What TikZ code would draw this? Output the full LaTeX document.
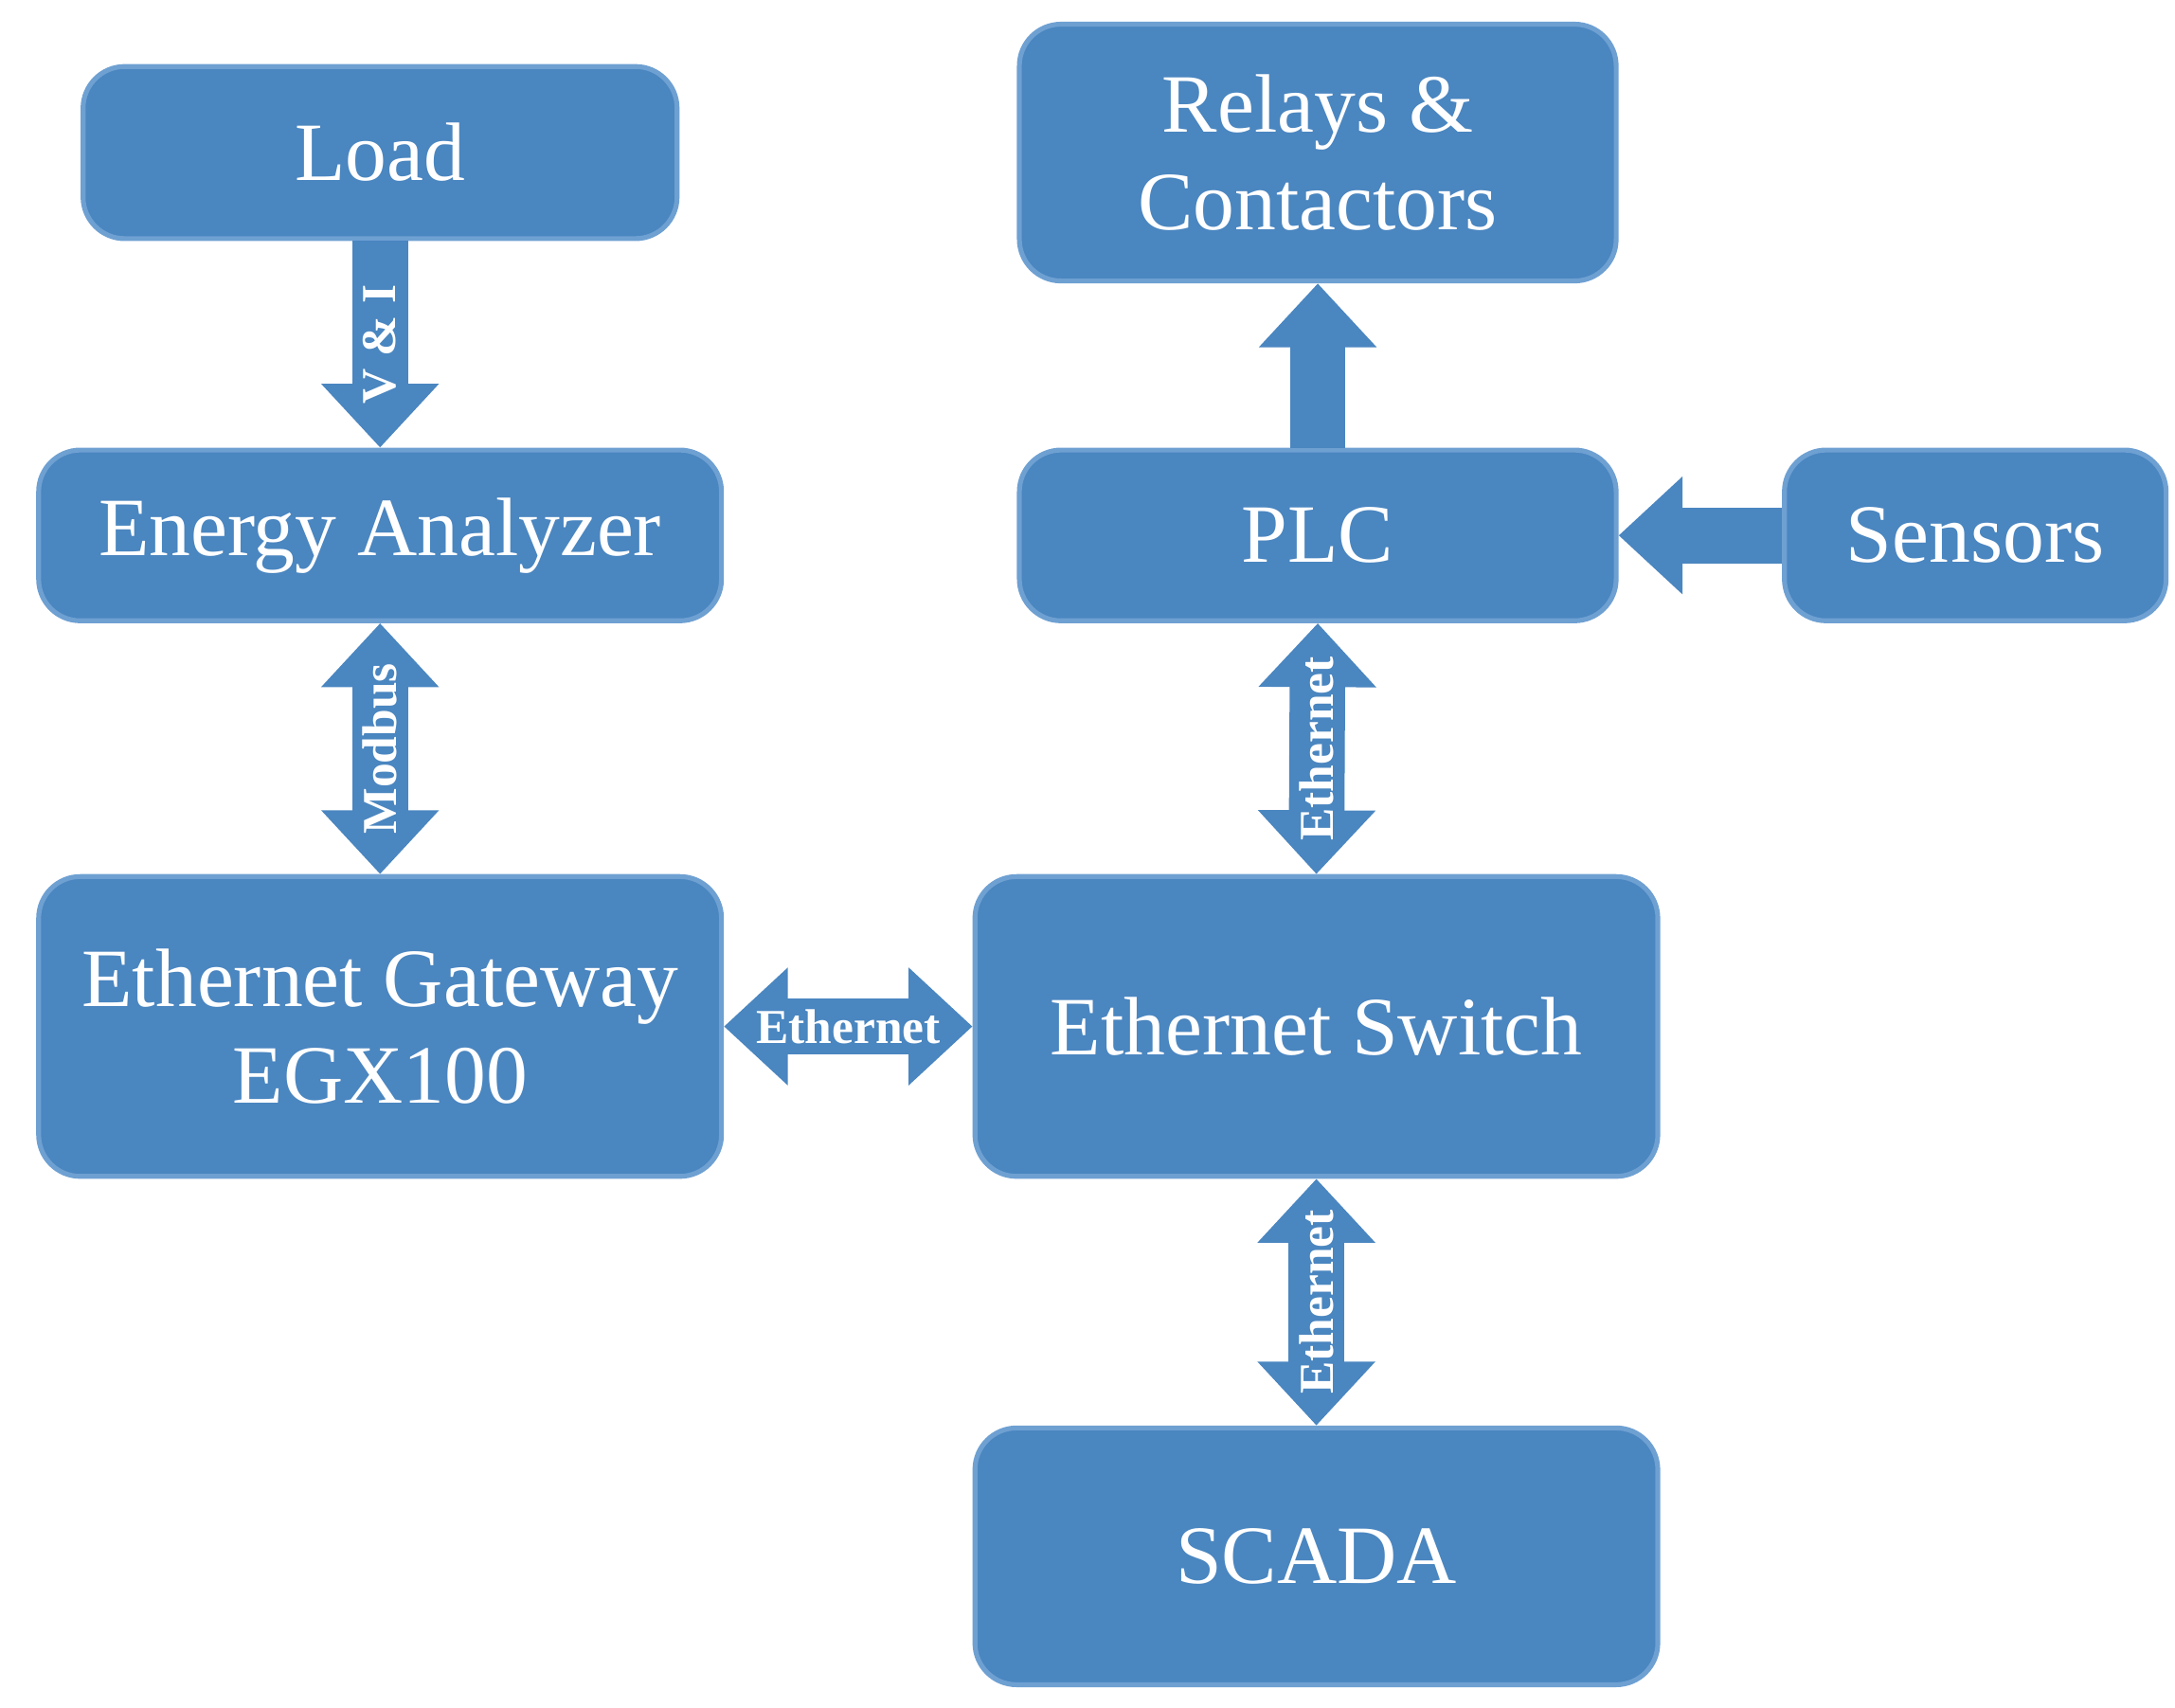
\documentclass[tikz,border=0pt]{standalone}
\usepackage{fontspec}
\setmainfont{Liberation Serif}
\usetikzlibrary{arrows.meta}
\definecolor{bx}{RGB}{74,134,192}
\definecolor{bd}{RGB}{110,160,210}
\begin{document}
\begin{tikzpicture}[x=0.01cm,y=-0.01cm,
 box/.style={draw=bd,line width=1pt,fill=bx,rounded corners=0.3cm,text=white,align=center,
   font=\fontsize{17}{20}\selectfont,inner sep=0pt},
 fat/.style={line width=0.4cm,draw=bx,{Triangle[width=0.82cm,length=0.46cm]}-{Triangle[width=0.82cm,length=0.46cm]}},
 one/.style={line width=0.4cm,draw=bx,-{Triangle[width=0.82cm,length=0.46cm]}},
 lab/.style={text=white,font=\bfseries\fontsize{10}{12}\selectfont,inner sep=0pt}]
\useasboundingbox (0,0) rectangle (1568,1231);
\node[box,minimum width=4.28cm,minimum height=1.24cm] (load) at (274,110) {Load};
\node[box,minimum width=4.92cm,minimum height=1.23cm] (ea) at (274,386) {Energy Analyzer};
\node[box,minimum width=4.92cm,minimum height=2.16cm] (gw) at (274,740) {Ethernet Gateway\\EGX100};
\node[box,minimum width=4.3cm,minimum height=1.85cm] (rel) at (950,110) {Relays \&\\Contactors};
\node[box,minimum width=4.3cm,minimum height=1.23cm] (plc) at (950,386) {PLC};
\node[box,minimum width=2.75cm,minimum height=1.23cm] (sen) at (1424,386) {Sensors};
\node[box,minimum width=4.92cm,minimum height=2.16cm] (sw) at (949,740) {Ethernet Switch};
\node[box,minimum width=4.92cm,minimum height=1.85cm] (sc) at (949,1122) {SCADA};
\draw[one] (load.south) -- node[lab,rotate=90]{V \& I} (ea.north);
\draw[fat] (ea.south) -- node[lab,rotate=90]{Modbus} (gw.north);
\draw[one] (plc.north) -- (rel.south);
\draw[one] (sen.west) -- (plc.east);
\draw[fat] (plc.south) -- node[lab,rotate=90]{Ethernet} (sw.north);
\draw[fat] (gw.east) -- node[lab]{Ethernet} (sw.west);
\draw[fat] (sw.south) -- node[lab,rotate=90]{Ethernet} (sc.north);
\end{tikzpicture}
\end{document}
